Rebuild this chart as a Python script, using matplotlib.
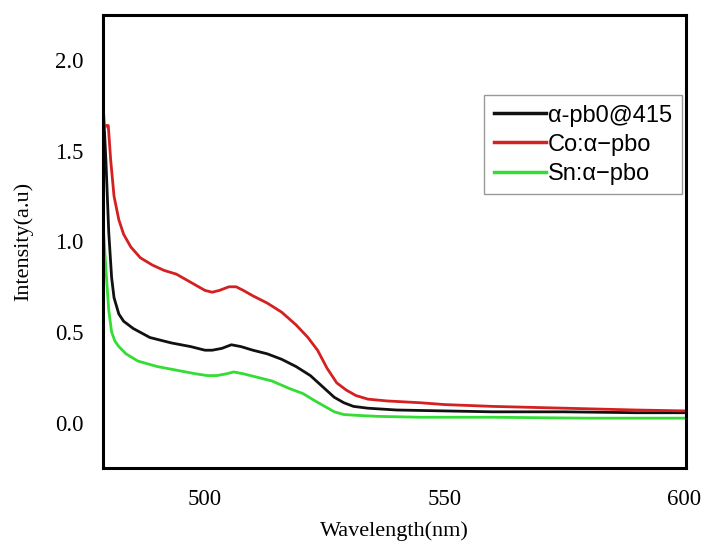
import matplotlib
matplotlib.use("Agg")
import matplotlib.pyplot as plt

# data
black_x = [478.8, 479.3, 479.9, 480.5, 481.0, 482.0, 483.0, 485, 488.5, 493, 497, 500, 501.5, 503.5, 505.5, 507.5, 510, 513, 516, 519, 522, 524.5, 527, 529, 531, 534, 540, 550, 560, 575, 590, 600.4]
black_y = [1.72, 1.45, 1.05, 0.80, 0.69, 0.60, 0.56, 0.52, 0.47, 0.44, 0.42, 0.40, 0.40, 0.41, 0.43, 0.42, 0.40, 0.38, 0.35, 0.31, 0.26, 0.20, 0.14, 0.11, 0.09, 0.08, 0.07, 0.065, 0.06, 0.06, 0.055, 0.055]

red_x = [479.0, 479.3, 479.8, 480.3, 481.0, 482.0, 483.0, 484.5, 486.5, 489, 491.5, 494, 496, 498, 500, 501.5, 503, 505, 506.5, 508, 510, 513, 516, 519, 521.5, 523.5, 525.5, 527.5, 529.5, 531.5, 534, 538, 545, 550, 560, 575, 590, 600.4]
red_y = [1.62, 1.64, 1.64, 1.45, 1.25, 1.12, 1.04, 0.97, 0.91, 0.87, 0.84, 0.82, 0.79, 0.76, 0.73, 0.72, 0.73, 0.75, 0.75, 0.73, 0.70, 0.66, 0.61, 0.54, 0.47, 0.40, 0.30, 0.22, 0.18, 0.15, 0.13, 0.12, 0.11, 0.10, 0.09, 0.08, 0.07, 0.065]

green_x = [478.8, 479.3, 479.9, 480.5, 481.2, 482.0, 483.5, 486, 490, 494, 498, 500.5, 502.5, 504.5, 506, 508, 511, 514, 517.5, 520.5, 523, 525, 527, 529, 532, 536, 545, 560, 580, 600.4]
green_y = [1.06, 0.85, 0.62, 0.50, 0.45, 0.42, 0.38, 0.34, 0.31, 0.29, 0.27, 0.26, 0.26, 0.27, 0.28, 0.27, 0.25, 0.23, 0.19, 0.16, 0.12, 0.09, 0.06, 0.045, 0.04, 0.035, 0.03, 0.03, 0.025, 0.025]

labels = ["\u03b1-pb0@415", "Co:\u03b1\u2212pbo", "Sn:\u03b1\u2212pbo"]
xticks = [500, 550, 600]
yticks = [0.0, 0.5, 1.0, 1.5, 2.0]

fig = plt.figure(figsize=(7.07, 5.45), dpi=100)
ax = fig.add_axes([0.1457, 0.1413, 0.8243, 0.8312])

ax.plot(black_x, black_y, color="#111111", lw=2.0, label=labels[0])
ax.plot(red_x, red_y, color="#d42020", lw=2.0, label=labels[1])
ax.plot(green_x, green_y, color="#33dd33", lw=2.0, label=labels[2])

ax.set_xlim(478.7, 600.4)
ax.set_ylim(-0.25, 2.25)
ax.set_xticks(xticks)
ax.set_yticks(yticks)
ax.set_yticklabels([f"{v:.1f}" for v in yticks])
ax.tick_params(length=0, labelsize=16.5)
ax.tick_params(axis="y", pad=14)
ax.tick_params(axis="x", pad=15)
for lab in ax.get_xticklabels() + ax.get_yticklabels():
    lab.set_family("Liberation Serif")
for s in ax.spines.values():
    s.set_linewidth(2.2)

ax.set_xlabel("Wavelength(nm)", family="Liberation Serif", fontsize=16, labelpad=8)
ax.set_ylabel("Intensity(a.u)", family="Liberation Serif", fontsize=16, labelpad=16)

leg = ax.legend(loc="upper right", bbox_to_anchor=(0.993, 0.823),
                prop={"family": "Liberation Sans", "size": 17},
                fancybox=False, edgecolor="#999999", framealpha=1,
                handlelength=2.2, handletextpad=0.1, labelspacing=0.3,
                borderpad=0.4, borderaxespad=0)
for line in leg.get_lines():
    line.set_linewidth(2.5)
leg.get_frame().set_linewidth(1.0)

fig.savefig("out.png", dpi=100)
